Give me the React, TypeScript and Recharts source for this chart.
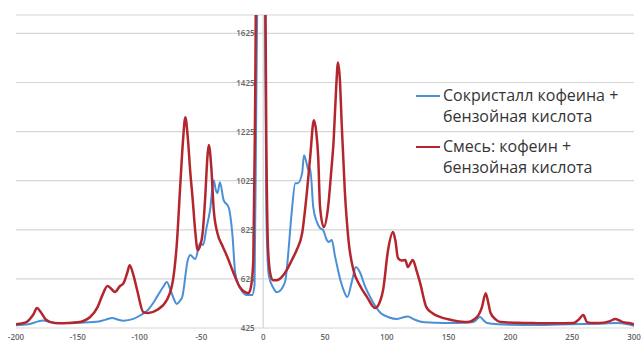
import { CartesianGrid, Legend, Line, LineChart, ReferenceLine, XAxis, YAxis } from "recharts"

// Raman shift (cm-1) vs intensity

const cocrystalShift = [
  -200, -190, -182, -178, -172, -164, -150, -135, -128, -122, -118, -113, -105, -99, -93, -89, -85, -81, -78, -75,
  -72, -70, -67.5, -65.5, -61, -59, -55, -51, -48.5, -46, -43, -40, -38.5, -37, -35, -32, -28, -25, -22.6, -18.6,
  -13, -9, -7, -5.5, -4, 1, 2.5, 4.5, 8, 11, 15, 18, 20, 23, 26, 28, 31.5, 33, 35.5, 36.5, 38, 40.5, 43.5, 46, 48.5,
  51.5, 53, 55.5, 58, 60, 63, 65, 68, 72, 75, 78.5, 82, 86.5, 95, 102, 108, 113, 117, 122, 129, 140, 151, 162,
  170, 175.5, 178, 181, 190, 218, 240, 259, 270, 286, 295, 300,
]
const cocrystalIntensity = [
  436, 440, 452, 456, 448, 445, 446, 450, 458, 466, 460, 455, 462, 478, 500, 527, 560, 592, 612, 580,
  540, 523, 535, 551, 702, 722, 706, 771, 763, 830, 905, 1027, 990, 974, 1019, 946, 917, 811, 649, 588,
  559, 559, 600, 1400, 2000, 2000, 900, 640, 590, 571, 585, 620, 714, 893, 1015, 1015, 1056, 1129, 1088, 1068,
  1076, 917, 856, 832, 824, 783, 775, 783, 720, 673, 610, 580, 551, 620, 673, 649, 600, 551, 486, 468, 462,
  468, 472, 460, 449, 446, 445, 446, 449, 470, 458, 445, 440, 437, 439, 441, 442, 445, 440, 434,
]

const mixtureShift = [
  -200, -192, -186, -183, -180, -176, -172, -165, -158, -150, -140, -134, -130, -126, -123, -120, -116, -113, -110,
  -108, -105, -102, -97, -93, -86, -78, -73, -70, -67, -65, -63, -61, -59, -57, -55, -53, -51, -49, -47, -45, -44,
  -42, -40, -37, -33, -29, -24, -19, -15, -12, -10, -8, -6.5, -5, 1, 2.5, 4, 6, 8, 11, 14, 19, 23, 27, 31.5, 35.5,
  38, 41, 43, 44.5, 46, 49, 52.5, 55, 57, 59, 60.5, 62, 63.5, 66, 69, 73, 78, 84, 90.5, 95, 97, 101, 105, 107,
  109, 112, 115, 117, 121, 124, 127, 132, 137, 143, 155, 165, 173, 177, 180, 182, 184, 188, 192, 205, 218, 235,
  251, 255, 259, 262, 267, 272, 280, 285, 291, 296, 300,
]
const mixtureIntensity = [
  440, 448, 480, 506, 490, 460, 449, 444, 445, 448, 470, 510, 560, 596, 585, 572, 595, 608, 650,
  681, 640, 580, 490, 486, 498, 539, 620, 760, 1015, 1180, 1283, 1200, 1060, 946, 820, 742, 760, 811, 950, 1130, 1170,
  1080, 905, 811, 760, 714, 649, 592, 572, 567, 590, 700, 1353, 2300, 2300, 1200, 740, 640, 620, 620, 628, 661, 700, 742, 811, 986,
  1121, 1271, 1220, 1121, 917, 836, 917, 1060, 1190, 1400, 1507, 1440, 1259, 986, 783, 661, 600, 551, 506, 540, 580, 742, 816, 780,
  710, 700, 702, 673, 702, 660, 608, 510, 485, 470, 455, 449, 470, 510, 567, 530, 486, 460, 449, 446, 445, 444,
  445, 458, 478, 449, 445, 445, 452, 462, 449, 445, 440,
]

const xTicks = [-200, -150, -100, -50, 0, 50, 100, 150, 200, 250, 300]
const yTicks = [425, 625, 825, 1025, 1225, 1425, 1625]

const seriesNames = ["Сокристалл кофеина + бензойная кислота", "Смесь: кофеин + бензойная кислота"]

const cocrystalData = cocrystalShift.map((x, i) => ({ x, cocrystal: cocrystalIntensity[i] }))
const mixtureData = mixtureShift.map((x, i) => ({ x, mixture: mixtureIntensity[i] }))

const WIDTH = 644
const HEIGHT = 343
const MARGIN = { top: 15, right: 10, bottom: 0, left: 15 }
const X_MIN = -200
const X_MAX = 300
// pixel position of x = 0, where the value axis sits
const ZERO_X = MARGIN.left + ((WIDTH - MARGIN.left - MARGIN.right) * (0 - X_MIN)) / (X_MAX - X_MIN)

const BLUE = "#4a8fd8"
const RED = "#b3262d"

function renderValueTick(props: any) {
  const { y, payload } = props
  return (
    <text
      key={payload.value}
      x={ZERO_X - 8}
      y={y}
      dy={3}
      textAnchor="end"
      fontSize={8}
      fontWeight={600}
      fontFamily="Open Sans"
      fill="#666"
    >
      {payload.value}
    </text>
  )
}

function SpectrumLegend() {
  const entries = [
    { color: BLUE, lines: ["Сокристалл кофеина +", "бензойная кислота"] },
    { color: RED, lines: ["Смесь: кофеин +", "бензойная кислота"] },
  ]
  return (
    <div style={{ fontFamily: "Open Sans", fontSize: 16, color: "#353535", lineHeight: "21px" }}>
      {entries.map((e, i) => (
        <div key={i} style={{ display: "flex", marginBottom: i === 0 ? 9 : 0 }}>
          <div style={{ width: 24, height: 2, background: e.color, marginTop: 10, marginRight: 3, flexShrink: 0 }} />
          <div>
            {e.lines.map((l) => (
              <div key={l}>{l}</div>
            ))}
          </div>
        </div>
      ))}
    </div>
  )
}

export default function App() {
  return (
    <div style={{ position: "absolute", left: 0, top: 0, background: "#fff" }}>
      <LineChart width={WIDTH} height={HEIGHT} margin={MARGIN}>
        <CartesianGrid vertical={false} stroke="#d6d6d6" strokeWidth={1.2} />
        <XAxis
          type="number"
          dataKey="x"
          domain={[X_MIN, X_MAX]}
          ticks={xTicks}
          allowDataOverflow
          height={15}
          axisLine={false}
          tickLine={false}
          tickSize={4}
          tick={{ fontSize: 8, fontWeight: 600, fontFamily: "Open Sans", fill: "#666" }}
          interval={0}
        />
        <YAxis
          type="number"
          domain={[425, 1700]}
          ticks={yTicks}
          allowDataOverflow
          width={1}
          axisLine={false}
          tickLine={false}
          tick={renderValueTick}
          interval={0}
        />
        <ReferenceLine x={0} stroke="#cfd6d6" strokeWidth={1.2} />
        <Legend
          layout="horizontal"
          verticalAlign="middle"
          align="center"
          wrapperStyle={{ left: 416, top: 85, width: 224 }}
          content={<SpectrumLegend />}
        />
        <Line
          data={cocrystalData}
          dataKey="cocrystal"
          name={seriesNames[0]}
          type="monotone"
          stroke={BLUE}
          strokeWidth={2}
          dot={false}
          isAnimationActive={false}
        />
        <Line
          data={mixtureData}
          dataKey="mixture"
          name={seriesNames[1]}
          type="monotone"
          stroke={RED}
          strokeWidth={2.5}
          dot={false}
          isAnimationActive={false}
        />
      </LineChart>
    </div>
  )
}
